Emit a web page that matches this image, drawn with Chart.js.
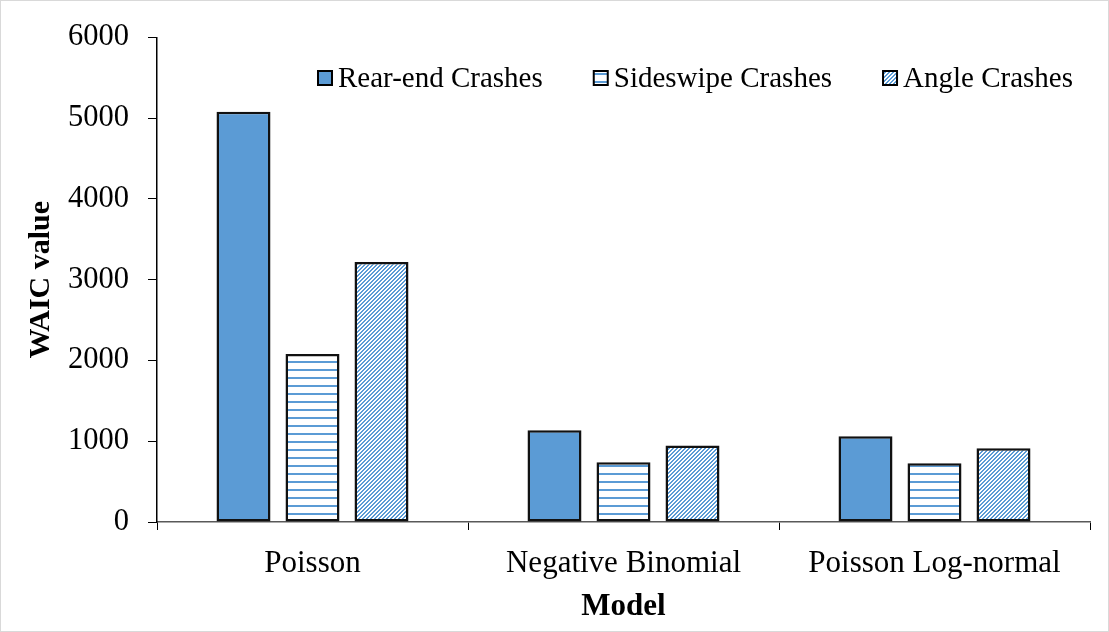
<!DOCTYPE html>
<html>
<head>
<meta charset="utf-8">
<script src="https://cdn.jsdelivr.net/npm/chart.js@4"></script>
<style>
  html, body { margin: 0; padding: 0; background: #fff; }
  #c { display: block; }
</style>
</head>
<body>
<canvas id="c" width="1109" height="632"></canvas>
<script>
const categories = ["Poisson", "Negative Binomial", "Poisson Log-normal"];
const seriesLabels = ["Rear-end Crashes", "Sideswipe Crashes", "Angle Crashes"];
const rearEnd = [5077, 1135, 1060];
const sideswipe = [2081, 740, 728];
const angle = [3218, 948, 912];
const yTicks = [0, 1000, 2000, 3000, 4000, 5000, 6000];

const BLUE = '#5B9BD5';
const FONT = "'Liberation Serif', 'Times New Roman', serif";

function horizPattern() {
  const t = document.createElement('canvas');
  t.width = 8; t.height = 8;
  const g = t.getContext('2d');
  g.fillStyle = '#fff'; g.fillRect(0, 0, 8, 8);
  g.fillStyle = BLUE; g.fillRect(0, 1, 8, 2);
  return g.createPattern(t, 'repeat');
}
function diagPattern() {
  const t = document.createElement('canvas');
  t.width = 4; t.height = 4;
  const g = t.getContext('2d');
  g.fillStyle = '#fff'; g.fillRect(0, 0, 4, 4);
  g.fillStyle = BLUE;
  for (let x = 0; x < 4; x++) for (let y = 0; y < 4; y++) {
    if ((x + y) % 4 < 2) g.fillRect(x, y, 1, 1);
  }
  return g.createPattern(t, 'repeat');
}

const fills = [BLUE, horizPattern(), diagPattern()];
const values = [rearEnd, sideswipe, angle];

const legendPlugin = {
  id: 'customLegend',
  afterDraw(chart) {
    const ctx = chart.ctx;
    ctx.save();
    ctx.font = "29px " + FONT;
    ctx.textBaseline = 'middle';
    ctx.textAlign = 'left';
    let x = 318;
    const cy = 78;
    chart.data.datasets.forEach((ds) => {
      ctx.fillStyle = ds.backgroundColor;
      ctx.fillRect(x, cy - 7, 14, 14);
      ctx.strokeStyle = '#000';
      ctx.lineWidth = 2;
      ctx.strokeRect(x, cy - 7, 14, 14);
      ctx.fillStyle = '#000';
      ctx.fillText(ds.label, x + 20, cy + 1);
      x += 20 + ctx.measureText(ds.label).width + 51;
    });
    ctx.restore();
  }
};

const framePlugin = {
  id: 'frame',
  afterDraw(chart) {
    const ctx = chart.ctx;
    ctx.save();
    ctx.strokeStyle = '#d9d9d9';
    ctx.lineWidth = 1;
    ctx.strokeRect(0.5, 0.5, chart.width - 1, chart.height - 1);
    ctx.restore();
  }
};

new Chart(document.getElementById('c'), {
  type: 'bar',
  data: {
    labels: categories,
    datasets: seriesLabels.map((lab, i) => ({
      label: lab,
      data: values[i],
      backgroundColor: fills[i],
      borderColor: '#111',
      borderWidth: 2.5,
      borderSkipped: false,
      categoryPercentage: 0.6656,
      barPercentage: 0.7826
    }))
  },
  options: {
    responsive: false,
    animation: false,
    events: [],
    layout: { padding: { top: 33, right: 19, left: 0, bottom: 0 } },
    plugins: { legend: { display: false }, tooltip: { enabled: false } },
    scales: {
      x: {
        offset: true,
        grid: { display: true, drawOnChartArea: false, drawTicks: true, tickLength: 8, color: '#000', offset: true },
        border: { display: true, color: '#595959', width: 1.5 },
        ticks: { color: '#000', font: { family: FONT, size: 31 }, padding: 15, maxRotation: 0 },
        title: { display: true, text: 'Model', color: '#000', font: { family: FONT, size: 31, weight: 'bold' }, padding: { top: 0, bottom: 6 } },
        afterFit(scale) { scale.height = 110; }
      },
      y: {
        min: 0, max: 6000,
        afterBuildTicks(scale) { scale.ticks = yTicks.map(v => ({ value: v })); },
        grid: { display: true, drawOnChartArea: false, drawTicks: true, tickLength: 9, color: '#000' },
        border: { display: true, color: '#000', width: 1.5 },
        ticks: { color: '#000', font: { family: FONT, size: 30.5 }, padding: 19, callback: (v) => String(v) },
        title: { display: true, text: 'WAIC value', color: '#000', font: { family: FONT, size: 30, weight: 'bold' }, padding: { top: 23, bottom: 0 } },
        afterFit(scale) { scale.width = 157; }
      }
    }
  },
  plugins: [legendPlugin, framePlugin]
});
</script>
</body>
</html>
